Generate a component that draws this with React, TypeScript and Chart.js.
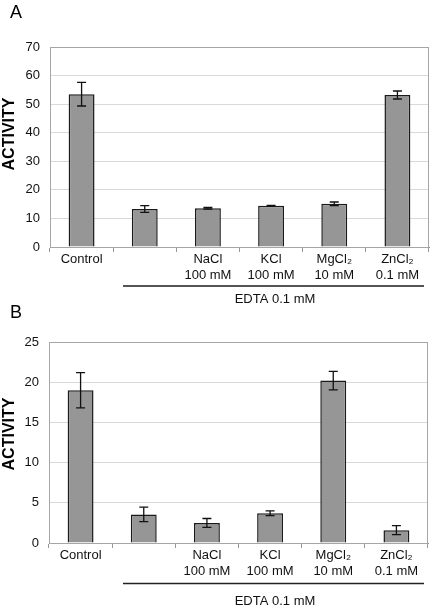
import React, { useEffect, useRef } from "react";
import { Chart, registerables } from "chart.js";

Chart.register(...registerables);

const categories: (string | string[])[] = [
  "Control",
  "",
  ["NaCl", "100 mM"],
  ["KCl", "100 mM"],
  ["MgCl₂", "10 mM"],
  ["ZnCl₂", "0.1 mM"],
];

const valuesA = [53.5, 13.3, 13.6, 14.4, 15.1, 53.2];
const errorsA = [4.15, 1.2, 0.3, 0.2, 0.65, 1.4];
const ticksA = { max: 70, step: 10 };

const valuesB = [19.0, 3.55, 2.5, 3.7, 20.2, 1.6];
const errorsB = [2.2, 0.9, 0.55, 0.3, 1.15, 0.55];
const ticksB = { max: 25, step: 5 };

const groupLabel = "EDTA 0.1 mM";
const yTitle = "ACTIVITY";

const FONT = "'Liberation Sans', Arial, sans-serif";

type PanelProps = {
  letter: string;
  values: number[];
  errors: number[];
  max: number;
  step: number;
  padTop: number;
  yWidth: number;
  xHeight: number;
  padRight: number;
  letterY: number;
  titleY: number;
  bracketY: number;
  bracketColor: string;
  bracketWidth: number;
  groupY: number;
};

function Panel(p: PanelProps) {
  const ref = useRef<HTMLCanvasElement | null>(null);
  useEffect(() => {
    if (!ref.current) return;
    const errPlugin = {
      id: "errbars",
      afterDatasetsDraw(chart: any) {
        const ctx = chart.ctx;
        const xs = chart.scales.x;
        const ys = chart.scales.y;
        ctx.save();
        ctx.strokeStyle = "#111";
        ctx.lineWidth = 1.3;
        p.values.forEach((v, i) => {
          const x = xs.getPixelForValue(i);
          const yl = ys.getPixelForValue(v - p.errors[i]);
          const yh = ys.getPixelForValue(v + p.errors[i]);
          ctx.beginPath();
          ctx.moveTo(x, yl);
          ctx.lineTo(x, yh);
          ctx.moveTo(x - 4.5, yl);
          ctx.lineTo(x + 4.5, yl);
          ctx.moveTo(x - 4.5, yh);
          ctx.lineTo(x + 4.5, yh);
          ctx.stroke();
        });
        ctx.restore();
      },
    };
    const framePlugin = {
      id: "frame",
      beforeDatasetsDraw(chart: any) {
        const { left, top, right, bottom } = chart.chartArea;
        const ctx = chart.ctx;
        ctx.save();
        ctx.strokeStyle = "#a6a6a6";
        ctx.lineWidth = 1;
        ctx.strokeRect(Math.round(left) + 0.5, Math.round(top) + 0.5, Math.round(right - left) - 1, Math.round(bottom - top));
        ctx.restore();
      },
    };
    const textPlugin = {
      id: "texts",
      afterDraw(chart: any) {
        const ctx = chart.ctx;
        ctx.save();
        ctx.fillStyle = "#000";
        ctx.font = `18px ${FONT}`;
        ctx.textAlign = "left";
        ctx.textBaseline = "alphabetic";
        ctx.fillText(p.letter, 10, p.letterY);
        ctx.save();
        ctx.translate(10, p.titleY);
        ctx.rotate(-Math.PI / 2);
        ctx.font = `bold 16px ${FONT}`;
        ctx.textAlign = "center";
        ctx.textBaseline = "middle";
        ctx.fillText(yTitle, 0, 0);
        ctx.restore();
        ctx.strokeStyle = p.bracketColor;
        ctx.lineWidth = p.bracketWidth;
        ctx.beginPath();
        ctx.moveTo(123, p.bracketY);
        ctx.lineTo(424, p.bracketY);
        ctx.stroke();
        ctx.font = `13px ${FONT}`;
        ctx.textAlign = "center";
        ctx.textBaseline = "middle";
        ctx.fillStyle = "#111";
        ctx.fillText(groupLabel, 275, p.groupY);
        ctx.restore();
      },
    };
    const chart = new Chart(ref.current, {
      type: "bar",
      data: {
        labels: categories,
        datasets: [
          {
            data: p.values,
            backgroundColor: "#969696",
            borderColor: "#1a1a1a",
            borderWidth: 1.5,
            barPercentage: 0.41,
            categoryPercentage: 1,
          },
        ],
      },
      options: {
        animation: false,
        responsive: false,
        layout: { padding: { top: p.padTop, right: p.padRight, left: 0, bottom: 0 } },
        plugins: { legend: { display: false }, tooltip: { enabled: false }, title: { display: false } },
        scales: {
          x: {
            grid: { offset: true, drawOnChartArea: false, drawTicks: true, tickLength: 5, color: "#999" },
            border: { color: "#888" },
            ticks: { font: { family: FONT, size: 13, lineHeight: 1.23 }, color: "#111", padding: -1, maxRotation: 0, autoSkip: false },
            afterFit: (s: any) => {
              s.height = p.xHeight;
            },
          },
          y: {
            min: 0,
            max: p.max,
            ticks: { stepSize: p.step, font: { family: FONT, size: 13 }, color: "#111", padding: 10 },
            grid: { color: "#d9d9d9", drawTicks: false },
            border: { color: "#a6a6a6" },
            afterFit: (s: any) => {
              s.width = p.yWidth;
            },
          },
        },
      },
      plugins: [framePlugin, errPlugin, textPlugin],
    });
    return () => chart.destroy();
  }, []);
  return <canvas ref={ref} width={434} height={304} style={{ display: "block" }} />;
}

export default function App() {
  return (
    <div style={{ position: "absolute", left: 0, top: 0, width: 434, height: 608, background: "#fff" }}>
      <Panel
        letter="A"
        values={valuesA}
        errors={errorsA}
        max={ticksA.max}
        step={ticksA.step}
        padTop={47}
        yWidth={50}
        xHeight={57}
        padRight={5}
        letterY={18}
        titleY={134}
        bracketY={286}
        bracketColor="#555"
        bracketWidth={2}
        groupY={299}
      />
      <Panel
        letter="B"
        values={valuesB}
        errors={errorsB}
        max={ticksB.max}
        step={ticksB.step}
        padTop={38}
        yWidth={49}
        xHeight={65}
        padRight={6}
        letterY={14}
        titleY={130}
        bracketY={279.5}
        bracketColor="#222"
        bracketWidth={1.5}
        groupY={297}
      />
    </div>
  );
}
